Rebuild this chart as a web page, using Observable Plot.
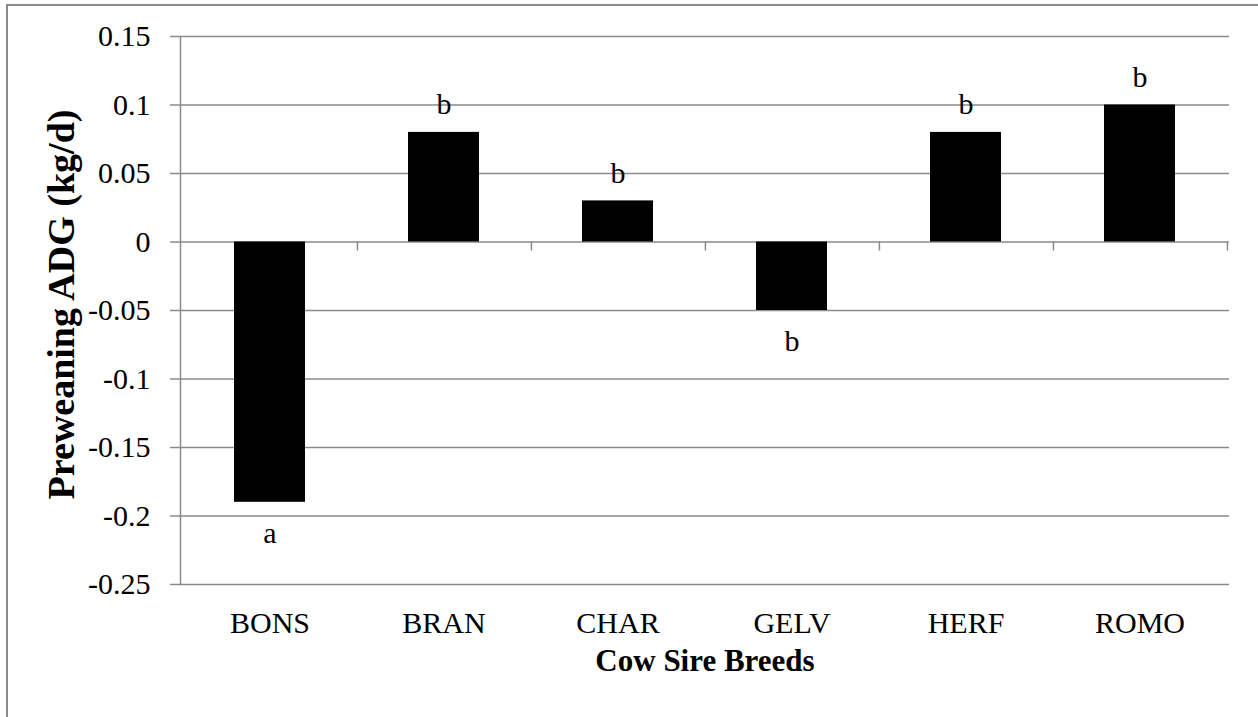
<!DOCTYPE html>
<html>
<head>
<meta charset="utf-8">
<script src="https://cdn.jsdelivr.net/npm/d3@7"></script>
<script src="https://cdn.jsdelivr.net/npm/@observablehq/plot@0.6"></script>
<style>
  html, body { margin: 0; padding: 0; background: #fff; overflow: hidden; }
  #wrap { position: relative; width: 1258px; height: 717px; }
  #border { position: absolute; left: 6px; top: 4px; width: 1400px; height: 900px;
            border: 2px solid #8a8a8a; box-sizing: border-box; pointer-events: none; }
  svg { font-family: "Liberation Serif", "Times New Roman", serif; }
</style>
</head>
<body>
<div id="wrap"><div id="border"></div></div>
<script>
// Preweaning average daily gain by cow sire breed, with significance letters
const breeds = ["BONS", "BRAN", "CHAR", "GELV", "HERF", "ROMO"];
const adg = [-0.19, 0.08, 0.03, -0.05, 0.08, 0.10];
const letters = ["a", "b", "b", "b", "b", "b"];
const yTicks = [-0.25, -0.2, -0.15, -0.1, -0.05, 0, 0.05, 0.1, 0.15];

const rows = breeds.map((b, i) => ({breed: b, adg: adg[i], letter: letters[i]}));

const W = 1258, H = 717;
const mL = 180, mR = 29, mT = 36, mB = 133;
const grey = "#8a8a8a";
const halfStep = (W - mL - mR) / breeds.length / 2;

const chart = Plot.plot({
  width: W,
  height: H,
  marginLeft: mL,
  marginRight: mR,
  marginTop: mT,
  marginBottom: mB,
  style: {fontFamily: "'Liberation Serif', 'Times New Roman', serif", fontSize: "30px", color: "#000", background: "transparent"},
  x: {domain: breeds, paddingInner: 0.59, paddingOuter: 0.295},
  y: {domain: [-0.25, 0.15]},
  marks: [
    Plot.gridY(yTicks, {stroke: grey, strokeOpacity: 1, strokeWidth: 1.5}),
    Plot.barY(rows, {x: "breed", y: "adg", fill: "#000"}),
    // category separators hanging below the zero line
    Plot.ruleX(breeds, {x: d => d, y1: 0, y2: 0, dx: halfStep, insetBottom: -9, stroke: grey, strokeWidth: 1.5}),
    Plot.frame({anchor: "left", stroke: grey, strokeWidth: 1.5}),
    Plot.axisY({ticks: yTicks, tickSize: 10, tickPadding: 20, stroke: grey, strokeWidth: 1.5,
      tickFormat: d => String(+d.toFixed(2)), label: null, fontSize: 30, fill: "#000"}),
    Plot.axisX({tickSize: 0, tickPadding: 27, label: null, fontSize: 30, fill: "#000"}),
    Plot.text(rows.filter(d => d.adg >= 0), {x: "breed", y: "adg", text: "letter", dy: -28, fontSize: 30, fill: "#000"}),
    Plot.text(rows.filter(d => d.adg < 0), {x: "breed", y: "adg", text: "letter", dy: 31, fontSize: 30, fill: "#000"}),
    Plot.text(["Cow Sire Breeds"], {frameAnchor: "bottom", lineAnchor: "middle", textAnchor: "middle",
      dy: 77, fontSize: 31, fontWeight: "bold", fill: "#000"}),
    Plot.text(["Preweaning ADG (kg/d)"], {frameAnchor: "left", lineAnchor: "middle", textAnchor: "middle",
      dx: -119, dy: -6, rotate: -90, fontSize: 38, fontWeight: "bold", fill: "#000"})
  ]
});

document.getElementById("wrap").prepend(chart);
</script>
</body>
</html>
